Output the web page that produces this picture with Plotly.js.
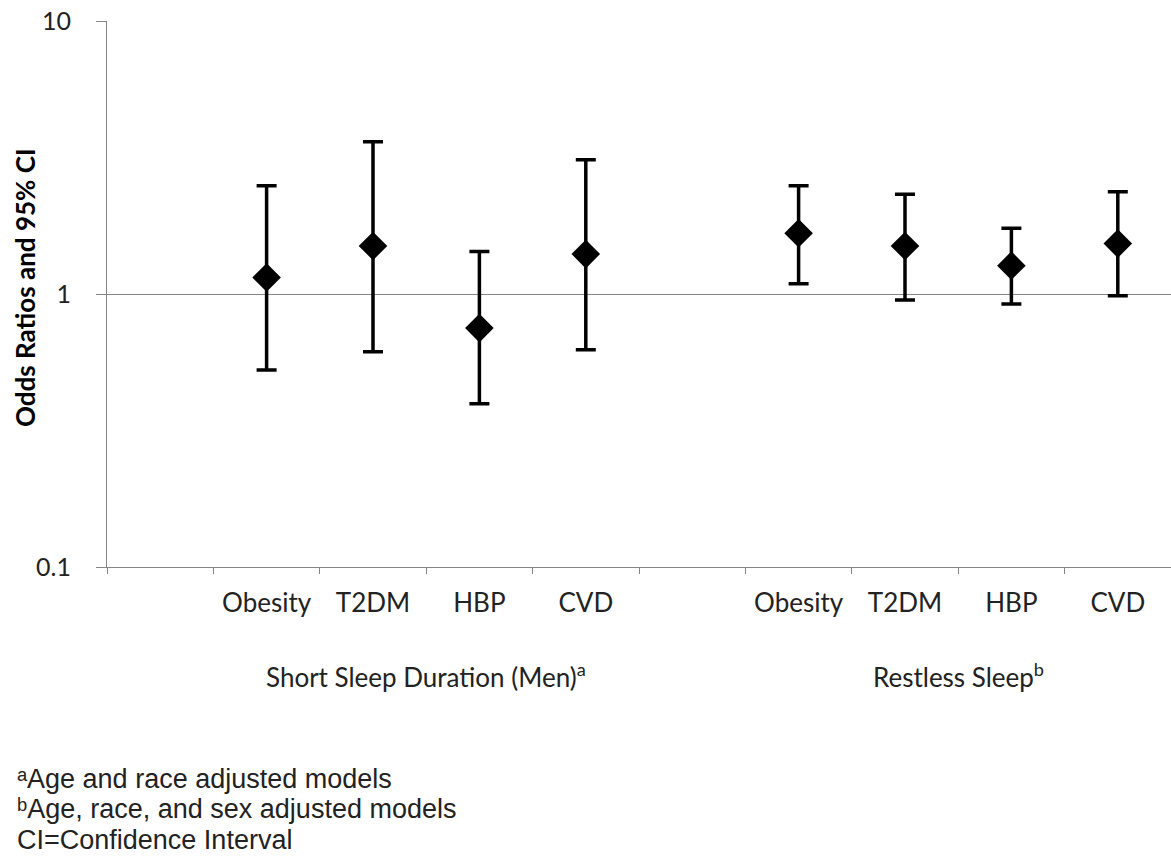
<!DOCTYPE html>
<html>
<head>
<meta charset="utf-8">
<script src="https://cdn.plot.ly/plotly-3.0.1.min.js"></script>
<style>html,body{margin:0;padding:0;background:#fff;overflow:hidden}#chart{width:1171px;height:862px}</style>
</head>
<body>
<div id="chart"></div>
<script>
// ---- data ----
const groups = ["Short Sleep Duration (Men)", "Restless Sleep"];
const groupNotes = ["a", "b"];
const outcomes = ["Obesity", "T2DM", "HBP", "CVD"];

const shortOR    = [1.15, 1.50, 0.75, 1.40];
const shortLower = [0.527, 0.615, 0.396, 0.625];
const shortUpper = [2.49, 3.61, 1.43, 3.10];

const restOR    = [1.67, 1.50, 1.27, 1.53];
const restLower = [1.09, 0.95, 0.92, 0.985];
const restUpper = [2.49, 2.32, 1.74, 2.37];

const yTicks = [0.1, 1, 10];
const yTickText = ["0.1", "1", "10"];
const yTitle = "Odds Ratios and 95% CI";

const footnotes = [
  "\u1D43Age and race adjusted models",
  "\u1D47Age, race, and sex adjusted models",
  "CI=Confidence Interval"
];

// ---- layout helpers ----
const series = [
  {or: shortOR, lo: shortLower, hi: shortUpper},
  {or: restOR, lo: restLower, hi: restUpper}
];
const slotsPerGroup = outcomes.length + 1;
const nSlots = slotsPerGroup * groups.length;
const xPos = (g, i) => g * slotsPerGroup + 1 + i;

const traces = series.map((s, g) => ({
  type: 'scatter',
  mode: 'markers',
  x: outcomes.map((_, i) => xPos(g, i)),
  y: s.or,
  xaxis: g === 0 ? 'x' : 'x2',
  yaxis: 'y',
  marker: {symbol: 'diamond', size: 22, color: '#000'},
  error_y: {
    type: 'data', symmetric: false,
    array: s.hi.map((h, i) => h - s.or[i]),
    arrayminus: s.or.map((v, i) => v - s.lo[i]),
    color: '#000', thickness: 3.5, width: 10
  },
  showlegend: false,
  hoverinfo: 'skip'
}));

const boundaries = [];
for (let k = 0; k < nSlots; k++) boundaries.push(k - 0.5);
const centers = [], labels = [];
groups.forEach((_, g) => outcomes.forEach((o, i) => { centers.push(xPos(g, i)); labels.push(o); }));

const axisGray = '#868686';
const annotations = groups.map((name, g) => ({
  xref: 'x', yref: 'paper',
  x: (xPos(g, 0) + xPos(g, outcomes.length - 1)) / 2,
  y: -0.199, xanchor: 'center', yanchor: 'middle',
  text: name + '<sup>' + groupNotes[g] + '</sup>',
  showarrow: false,
  font: {family: 'Lato', size: 26, color: '#222'}
}));
const footY = [-0.388, -0.444, -0.5];
footnotes.forEach((t, k) => annotations.push({
  xref: 'paper', yref: 'paper',
  x: -0.0865, y: footY[k], xanchor: 'left', yanchor: 'middle',
  text: t, showarrow: false,
  font: {family: 'Liberation Sans, Arial', size: 27, color: '#222'}
}));
annotations.push({
  xref: 'paper', yref: 'paper',
  x: -0.077, y: 0.511, xanchor: 'center', yanchor: 'middle',
  textangle: -90, text: '<b>' + yTitle + '</b>', showarrow: false,
  font: {family: 'Lato', size: 26, color: '#000'}
});

const layout = {
  width: 1171, height: 862,
  margin: {l: 107, r: 0, t: 21, b: 295},
  paper_bgcolor: '#fff', plot_bgcolor: '#fff',
  xaxis: {
    range: [-0.5, nSlots - 0.5], tickvals: boundaries, showticklabels: false,
    ticks: 'outside', ticklen: 6, tickcolor: axisGray, tickwidth: 1,
    showline: true, linecolor: axisGray, linewidth: 1,
    showgrid: false, zeroline: false, fixedrange: true
  },
  xaxis2: {
    overlaying: 'x', anchor: 'y', side: 'bottom',
    range: [-0.5, nSlots - 0.5], tickvals: centers, ticktext: labels,
    ticks: '', showline: false, showgrid: false, zeroline: false,
    tickfont: {family: 'Lato', size: 26, color: '#222'},
    ticklabelstandoff: 18
  },
  yaxis: {
    type: 'log', range: [-1, 1], tickvals: yTicks, ticktext: yTickText,
    ticks: 'outside', ticklen: 10, tickcolor: axisGray, tickwidth: 1,
    showline: true, linecolor: axisGray, linewidth: 1,
    showgrid: true, gridcolor: axisGray, gridwidth: 1, zeroline: false,
    tickfont: {family: 'Lato', size: 25, color: '#222'},
    ticklabelstandoff: 20
  },
  annotations: annotations,
  showlegend: false
};

Plotly.newPlot('chart', traces, layout, {displayModeBar: false, staticPlot: true});
</script>
</body>
</html>
